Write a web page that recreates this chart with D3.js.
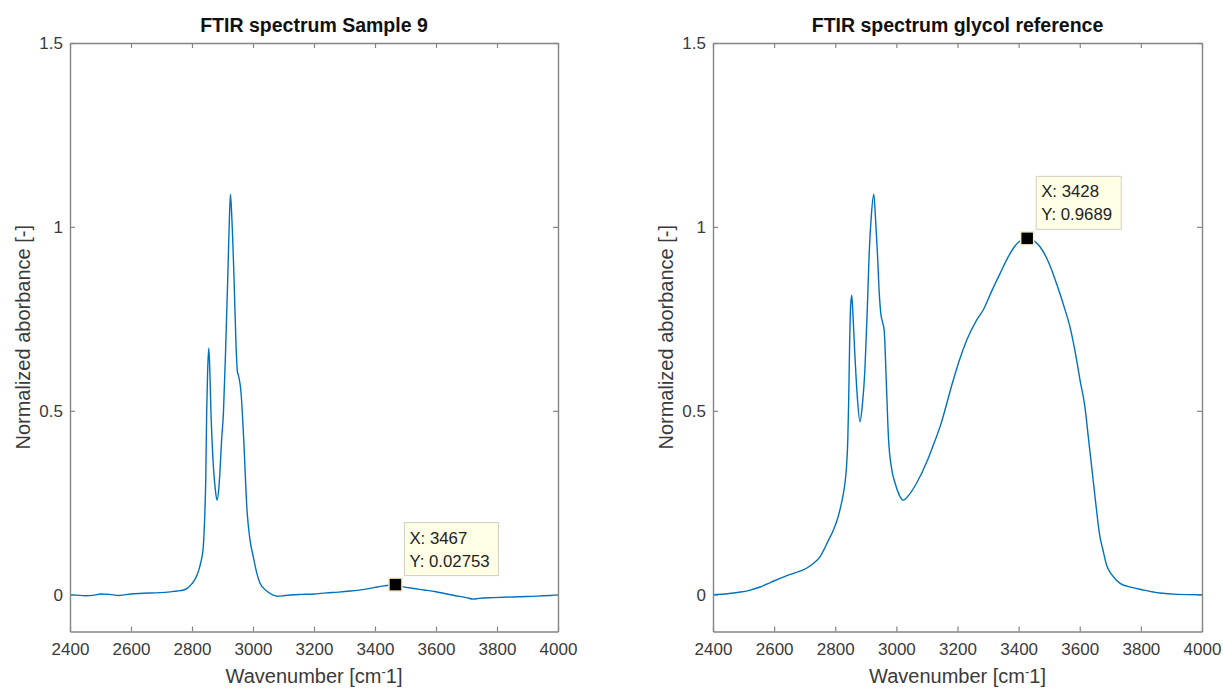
<!DOCTYPE html>
<html>
<head>
<meta charset="utf-8">
<script src="https://cdn.jsdelivr.net/npm/d3@7"></script>
<style>
  html, body { margin: 0; padding: 0; background: #ffffff; }
  svg { display: block; }
  text { font-family: "Liberation Sans", Arial, Helvetica, sans-serif; }
</style>
</head>
<body>
<svg id="chart" width="1223" height="688"></svg>
<script>
// ---- Sample 9 spectrum ----
const sampleWavenumber = [
  2400, 2420, 2450, 2480, 2500, 2530, 2560, 2600, 2640, 2680, 2720, 2750, 2770,
  2785, 2800, 2815, 2825, 2832, 2837, 2842, 2845, 2848, 2851, 2855, 2858, 2862,
  2868, 2876, 2882, 2888, 2892, 2897, 2903, 2910.5, 2917, 2921.5, 2926, 2930, 2938, 2944.5,
  2949, 2952, 2961, 2968, 2981, 2990, 3001, 3012, 3023, 3045, 3066, 3080, 3100,
  3130, 3160, 3200, 3240, 3280, 3320, 3360, 3400, 3430, 3467, 3490, 3526, 3560,
  3600, 3624, 3660, 3700, 3722, 3740, 3788, 3850, 3900, 3950, 4000
];
const sampleAbsorbance = [
  0.000, -0.001, -0.003, -0.001, 0.002, 0.001, -0.002, 0.002, 0.004, 0.005, 0.007, 0.010, 0.012,
  0.018, 0.030, 0.050, 0.075, 0.100, 0.130, 0.220, 0.310, 0.490, 0.600, 0.671, 0.620, 0.500,
  0.380, 0.290, 0.257, 0.290, 0.339, 0.420, 0.493, 0.674, 0.855, 0.990, 1.089, 1.036, 0.855, 0.674,
  0.605, 0.597, 0.547, 0.448, 0.222, 0.150, 0.103, 0.060, 0.031, 0.010, -0.001, -0.004, -0.003,
  0.000, 0.001, 0.002, 0.005, 0.007, 0.010, 0.014, 0.020, 0.024, 0.02753, 0.022, 0.017, 0.013,
  0.008, 0.004, -0.002, -0.008, -0.012, -0.010, -0.008, -0.006, -0.005, -0.003, -0.001
];

// ---- Glycol reference spectrum ----
const glycolWavenumber = [
  2400, 2440, 2480, 2520, 2554, 2580, 2601, 2636, 2670, 2706, 2730, 2750, 2776,
  2794, 2808, 2818, 2826, 2832, 2837, 2841, 2844, 2847, 2850, 2854, 2858, 2864,
  2872, 2881, 2888, 2897, 2905, 2911, 2918, 2926, 2932, 2938, 2944, 2949, 2955,
  2960, 2967, 2974, 2985, 2996, 3010, 3022, 3040, 3066, 3100, 3120, 3143, 3186,
  3208, 3230, 3262, 3284, 3310, 3339, 3365, 3388, 3410, 3428, 3450, 3470, 3500,
  3524, 3548, 3568, 3585, 3601, 3617, 3628, 3640, 3650, 3666, 3675, 3688, 3704,
  3732, 3770, 3804, 3862, 3920, 4000
];
const glycolAbsorbance = [
  0.000, 0.002, 0.006, 0.012, 0.021, 0.030, 0.038, 0.050, 0.060, 0.072, 0.086, 0.103, 0.145,
  0.176, 0.208, 0.240, 0.272, 0.305, 0.350, 0.420, 0.530, 0.680, 0.780, 0.814, 0.760, 0.656,
  0.540, 0.470, 0.510, 0.611, 0.780, 0.928, 1.030, 1.089, 1.020, 0.928, 0.820, 0.765, 0.740,
  0.720, 0.580, 0.429, 0.340, 0.303, 0.270, 0.257, 0.270, 0.303, 0.362, 0.405, 0.457, 0.583,
  0.642, 0.692, 0.746, 0.774, 0.822, 0.873, 0.917, 0.948, 0.965, 0.9689, 0.962, 0.946, 0.900,
  0.846, 0.785, 0.728, 0.660, 0.583, 0.510, 0.429, 0.340, 0.266, 0.158, 0.125, 0.080, 0.055,
  0.031, 0.020, 0.0136, 0.0045, 0.001, 0.000
];

// ---- Axis ticks ----
const xTicks = [2400, 2600, 2800, 3000, 3200, 3400, 3600, 3800, 4000];
const yTicks = [0, 0.5, 1, 1.5];
const yTickLabels = ["0", "0.5", "1", "1.5"];

// ---- Panels and their data tips ----
const panelTitles = ["FTIR spectrum Sample 9", "FTIR spectrum glycol reference"];
const tipX = [3467, 3428];
const tipY = [0.02753, 0.9689];
const tipXText = ["3467", "3428"];
const tipYText = ["0.02753", "0.9689"];

const panels = [
  { title: panelTitles[0], x: sampleWavenumber, y: sampleAbsorbance, tipX: tipX[0], tipY: tipY[0], tipXText: tipXText[0], tipYText: tipYText[0], left: 70, right: 558 },
  { title: panelTitles[1], x: glycolWavenumber, y: glycolAbsorbance, tipX: tipX[1], tipY: tipY[1], tipXText: tipXText[1], tipYText: tipYText[1], left: 713, right: 1202 }
];

const svg = d3.select("#chart");
const plotTop = 43, plotBottom = 631.5;
const axisColor = "#858585";
const textColor = "#3a3a3a";
const lineColor = "#0072BD";
const tickLen = 5;

panels.forEach(p => {
  const x = d3.scaleLinear().domain([2400, 4000]).range([p.left, p.right]);
  const y = d3.scaleLinear().domain([-0.1, 1.5]).range([plotBottom, plotTop]);
  const g = svg.append("g");

  // spectrum line (clipped to the axes box)
  const clipId = "clip" + p.left;
  svg.append("clipPath").attr("id", clipId)
    .append("rect").attr("x", p.left).attr("y", plotTop)
    .attr("width", p.right - p.left).attr("height", plotBottom - plotTop);

  const line = d3.line()
    .x((d, i) => x(p.x[i]))
    .y((d, i) => y(p.y[i]))
    .curve(d3.curveMonotoneX);

  g.append("path")
    .datum(p.x)
    .attr("clip-path", `url(#${clipId})`)
    .attr("d", line)
    .attr("fill", "none")
    .attr("stroke", lineColor)
    .attr("stroke-width", 1.4)
    .attr("stroke-linejoin", "round");

  // axes: bottom and left with labels, top and right ticks only (box)
  const axB = d3.axisBottom(x).tickValues(xTicks).tickSizeInner(-tickLen).tickSizeOuter(0).tickPadding(11).tickFormat(d3.format("d"));
  const axT = d3.axisTop(x).tickValues(xTicks).tickSizeInner(-tickLen).tickSizeOuter(0).tickFormat("");
  const axL = d3.axisLeft(y).tickValues(yTicks).tickSizeInner(-tickLen).tickSizeOuter(0).tickPadding(7).tickFormat((d, i) => yTickLabels[i]);
  const axR = d3.axisRight(y).tickValues(yTicks).tickSizeInner(-tickLen).tickSizeOuter(0).tickFormat("");

  const styleAxis = sel => {
    sel.select(".domain").attr("stroke", axisColor).attr("stroke-width", 1.4);
    sel.selectAll(".tick line").attr("stroke", axisColor).attr("stroke-width", 1.2);
    sel.selectAll(".tick text").attr("fill", textColor).style("font-size", "17px")
      .style("font-family", '"Liberation Sans", Arial, sans-serif');
  };

  g.append("g").attr("transform", `translate(0,${plotBottom})`).call(axB).call(styleAxis);
  g.append("g").attr("transform", `translate(0,${plotTop})`).call(axT).call(styleAxis);
  g.append("g").attr("transform", `translate(${p.left},0)`).call(axL).call(styleAxis);
  g.append("g").attr("transform", `translate(${p.right},0)`).call(axR).call(styleAxis);

  // title
  g.append("text")
    .attr("x", (p.left + p.right) / 2).attr("y", 32)
    .attr("text-anchor", "middle")
    .attr("fill", "#111")
    .style("font-size", "19.5px").style("font-weight", "bold")
    .text(p.title);

  // x label with superscript minus
  const xl = g.append("text")
    .attr("x", (p.left + p.right) / 2).attr("y", 683)
    .attr("text-anchor", "middle")
    .attr("fill", textColor)
    .style("font-size", "20px");
  xl.append("tspan").text("Wavenumber [cm");
  xl.append("tspan").attr("dy", -7).style("font-size", "13px").text("-");
  xl.append("tspan").attr("dy", 7).text("1]");

  // y label
  g.append("text")
    .attr("transform", `translate(${p.left - 40},${(plotTop + plotBottom) / 2}) rotate(-90)`)
    .attr("text-anchor", "middle")
    .attr("fill", textColor)
    .style("font-size", "20px")
    .text("Normalized aborbance [-]");

  // data tip: marker and label box
  const mx = x(p.tipX), my = y(p.tipY);
  g.append("rect")
    .attr("x", mx - 6.5).attr("y", my - 6.5).attr("width", 13).attr("height", 13)
    .attr("fill", "#000").attr("stroke", "#f4f0c8").attr("stroke-width", 1.5);

  const bx = mx + 9, bw = p.tipYText.length > 6 ? 94 : 85, bh = 53, by = my - 9 - bh;
  g.append("rect")
    .attr("x", bx).attr("y", by).attr("width", bw).attr("height", bh)
    .attr("fill", "#ffffe6").attr("stroke", "#cfcfc4").attr("stroke-width", 1);
  g.append("text").attr("x", bx + 5).attr("y", by + 21)
    .attr("fill", "#222").style("font-size", "16.8px").text("X: " + p.tipXText);
  g.append("text").attr("x", bx + 5).attr("y", by + 44)
    .attr("fill", "#222").style("font-size", "16.8px").text("Y: " + p.tipYText);
});
</script>
</body>
</html>
